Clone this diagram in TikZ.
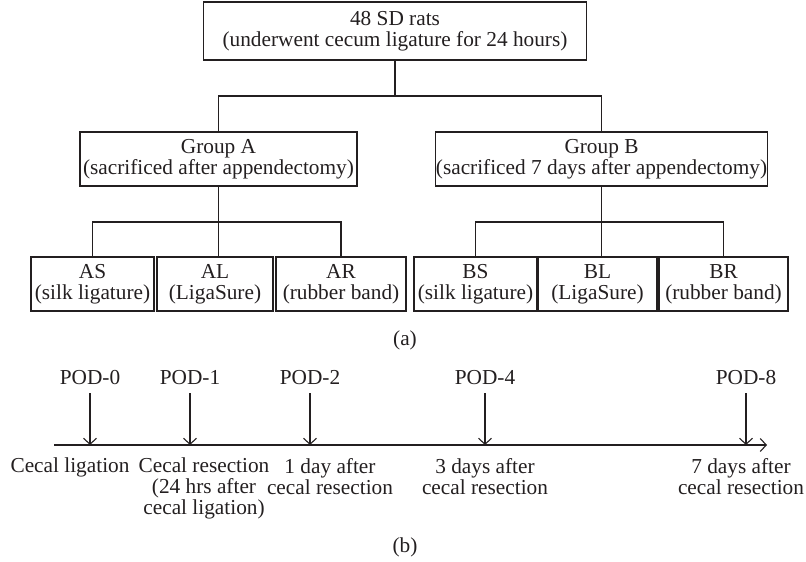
\documentclass[tikz,border=0pt]{standalone}
\usepackage{fontspec}
\setmainfont{Liberation Serif}
\usepackage{tikz}
\usetikzlibrary{shapes,arrows,arrows.meta}
\definecolor{inkgray}{RGB}{35,31,32}
\tikzstyle{block} = [rectangle, draw, line width=1.1pt, text centered, align=center,
    inner sep=0pt, minimum height=54pt]
\tikzstyle{line} = [draw, line width=1.1pt, -]
\tikzstyle{pointer} = [draw, line width=1.1pt, -{Straight Barb[length=6pt,width=13pt]}]
\tikzstyle{txt} = [inner sep=0pt, align=center]

\begin{document}
\begin{tikzpicture}[x=1pt,y=-1pt,inkgray,font=\fontsize{21.3}{21}\selectfont]
  \useasboundingbox (0,0) rectangle (806,562);
  % (a) groups
  \node[block,minimum width=383pt,minimum height=58pt] (rats) at (395,31) {48 SD rats\\(underwent cecum ligature for 24 hours)};
  \node[block,minimum width=277pt] (grpa) at (218.5,159) {Group A\\(sacrificed after appendectomy)};
  \node[block,minimum width=329pt] (grpb) at (601.5,159) {Group B\\(sacrificed 7 days after appendectomy)};
  \node[block,minimum width=123pt] (as) at (92.5,284) {AS\\(silk ligature)};
  \node[block,minimum width=116pt] (al) at (215,284) {AL\\(LigaSure)};
  \node[block,minimum width=130pt] (ar) at (341,284) {AR\\(rubber band)};
  \node[block,minimum width=123pt] (bs) at (475.5,284) {BS\\(silk ligature)};
  \node[block,minimum width=119pt] (bl) at (597.5,284) {BL\\(LigaSure)};
  \node[block,minimum width=129pt] (br) at (723.5,284) {BR\\(rubber band)};
  \coordinate (split) at (395,96);
  \coordinate (splita) at (218.5,222);
  \coordinate (splitb) at (601.5,222);
  \path[line] (rats.south) -- (split);
  \path[line] (grpa.north) |- (split) -| (grpb.north);
  \path[line] (grpa.south) -- (grpa.south |- al.north);
  \path[line] (as.north) |- (splita) -| (ar.north);
  \path[line] (grpb.south) -- (grpb.south |- bl.north);
  \path[line] (bs.north) |- (splitb) -| (br.north);
  \node[txt] (capa) at (405,340) {(a)};
  % (b) time line
  \coordinate (t0) at (54,445);
  \coordinate (t1) at (767,445);
  \path[pointer] (t0) -- (t1);
  \node[txt] (pod0) at (90,378) {POD-0};
  \node[txt] (pod1) at (190,378) {POD-1};
  \node[txt] (pod2) at (310,378) {POD-2};
  \node[txt] (pod4) at (485,378) {POD-4};
  \node[txt] (pod8) at (746,378) {POD-8};
  \foreach \p in {pod0,pod1,pod2,pod4,pod8}
    \path[pointer] ([yshift=-8pt]\p.south) -- (\p.south |- t0);
  \node[txt,anchor=north] (ev0) at (70,458) {Cecal ligation};
  \node[txt,anchor=north] (ev1) at (204,458) {Cecal resection\\(24 hrs after\\cecal ligation)};
  \node[txt,anchor=north] (ev2) at (330,458) {1 day after\\cecal resection};
  \node[txt,anchor=north] (ev4) at (485,458) {3 days after\\cecal resection};
  \node[txt,anchor=north] (ev8) at (741,458) {7 days after\\cecal resection};
  \node[txt] (capb) at (405,547) {(b)};
\end{tikzpicture}
\end{document}
